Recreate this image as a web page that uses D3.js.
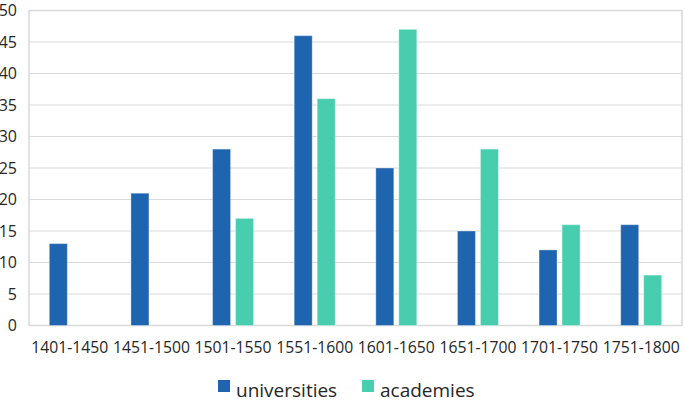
<!DOCTYPE html>
<html>
<head>
<meta charset="utf-8">
<script src="https://cdn.jsdelivr.net/npm/d3@7"></script>
<style>
  body { margin: 0; background: #fff; }
  svg { display: block; font-family: "Open Sans", sans-serif; }
</style>
</head>
<body>
<div id="chart"></div>
<script>
// Data
const periods = ['1401-1450', '1451-1500', '1501-1550', '1551-1600', '1601-1650', '1651-1700', '1701-1750', '1751-1800'];
const seriesNames = ['universities', 'academies'];
const universities = [13, 21, 28, 46, 25, 15, 12, 16];
const academies = [0, 0, 17, 36, 47, 28, 16, 8];
const yTicks = [0, 5, 10, 15, 20, 25, 30, 35, 40, 45, 50];

const colors = { universities: '#1f64af', academies: '#48cdaf' };

const width = 685;
const height = 404;
const margin = { top: 10.5, right: 3, bottom: 78.5, left: 29 };

const svg = d3.select('#chart')
  .append('svg')
  .attr('width', width)
  .attr('height', height);

// Scales
const x0 = d3.scaleBand()
  .domain(periods)
  .range([margin.left, width - margin.right]);

const x1 = d3.scaleBand()
  .domain(seriesNames)
  .range([0, 41])
  .paddingInner(0.217);

const y = d3.scaleLinear()
  .domain([0, 50])
  .range([height - margin.bottom, margin.top]);

// Gridlines
svg.append('g')
  .selectAll('line')
  .data(yTicks)
  .enter().append('line')
  .attr('x1', margin.left)
  .attr('x2', width - margin.right)
  .attr('y1', d => y(d))
  .attr('y2', d => y(d))
  .attr('stroke', '#d9d9d9')
  .attr('stroke-width', 1.2);

// Plot border
svg.append('rect')
  .attr('x', margin.left)
  .attr('y', y(50))
  .attr('width', width - margin.right - margin.left)
  .attr('height', y(0) - y(50))
  .attr('fill', 'none')
  .attr('stroke', '#d9d9d9')
  .attr('stroke-width', 1.5);

// Y tick labels
svg.append('g')
  .selectAll('text')
  .data(yTicks)
  .enter().append('text')
  .attr('x', 17)
  .attr('y', d => y(d))
  .attr('dy', '0.36em')
  .attr('text-anchor', 'end')
  .attr('font-size', '16px')
  .attr('fill', '#262626')
  .text(d => d);

// Bars
const rows = periods.map((p, i) => ({
  period: p,
  values: [
    { key: 'universities', value: universities[i] },
    { key: 'academies', value: academies[i] }
  ]
}));

const group = svg.append('g')
  .selectAll('g')
  .data(rows)
  .enter().append('g')
  .attr('transform', d => `translate(${x0(d.period) + x0.bandwidth() / 2 - 20.5},0)`);

group.selectAll('rect')
  .data(d => d.values.filter(v => v.value > 0))
  .enter().append('rect')
  .attr('x', d => x1(d.key))
  .attr('y', d => y(d.value))
  .attr('width', x1.bandwidth())
  .attr('height', d => y(0) - y(d.value))
  .attr('fill', d => colors[d.key])
  .attr('stroke', '#ffffff')
  .attr('stroke-opacity', 0.35)
  .attr('stroke-width', 1);

// X labels (squeezed a little to mimic the narrower original face)
svg.append('g')
  .selectAll('text')
  .data(periods)
  .enter().append('text')
  .attr('x', d => x0(d) + x0.bandwidth() / 2)
  .attr('y', 353)
  .attr('text-anchor', 'middle')
  .attr('font-size', '16.5px')
  .attr('textLength', 77)
  .attr('lengthAdjust', 'spacingAndGlyphs')
  .attr('fill', '#262626')
  .text(d => d);

// Legend
const legendX = [218, 362];
const legend = svg.append('g')
  .selectAll('g')
  .data(seriesNames)
  .enter().append('g')
  .attr('transform', (d, i) => `translate(${legendX[i]},380)`);

legend.append('rect')
  .attr('width', 12)
  .attr('height', 12)
  .attr('fill', d => colors[d]);

legend.append('text')
  .attr('x', 18)
  .attr('y', 16.5)
  .attr('font-size', '19px')
  .attr('fill', '#262626')
  .text(d => d);
</script>
</body>
</html>
